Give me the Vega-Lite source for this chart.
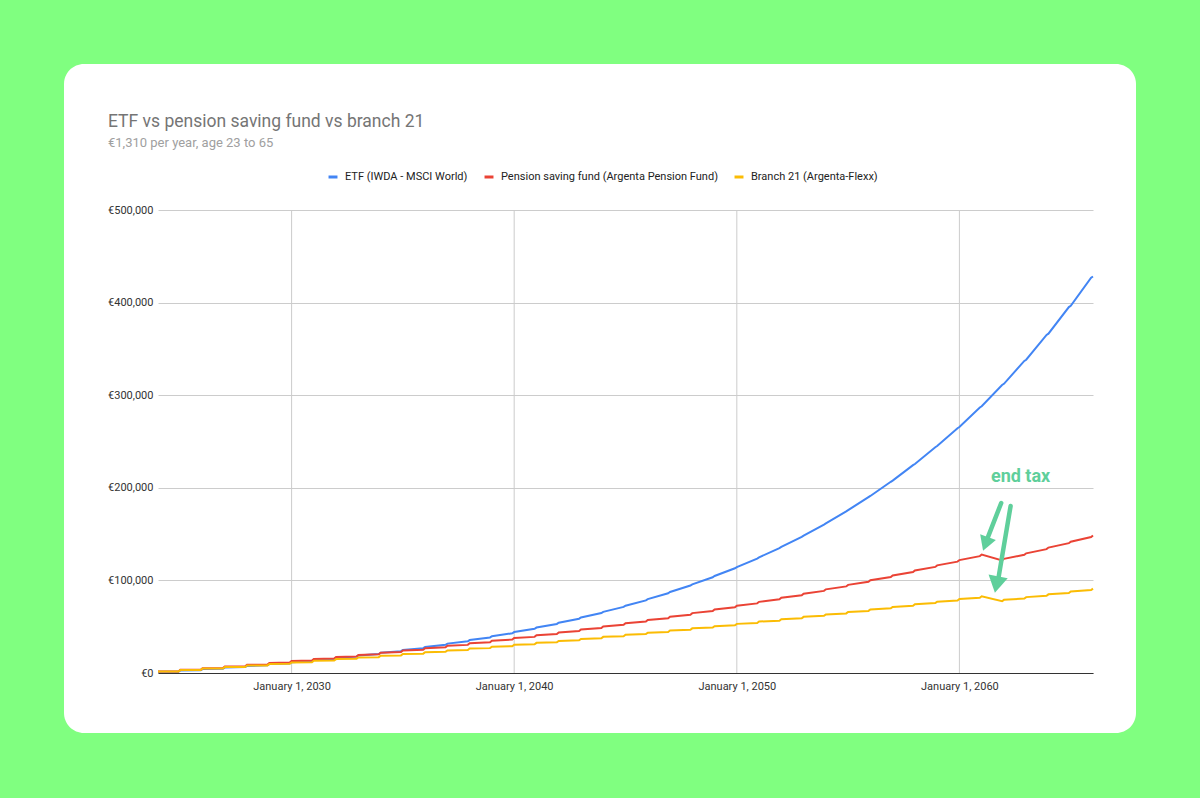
{
  "$schema": "https://vega.github.io/schema/vega-lite/v6.json",
  "width": 1072,
  "height": 669,
  "padding": {"left": 64, "top": 64, "right": 64, "bottom": 65},
  "background": "#80ff80",
  "config": {
    "view": {"fill": "#ffffff", "stroke": null, "cornerRadius": 20},
    "font": "Roboto",
    "axis": {"labelFont": "Roboto", "labelFontSize": 11, "labelColor": "#333333", "gridColor": "#cccccc", "gridWidth": 1},
    "legend": {"labelFont": "Roboto"}
  },
  "title": {
    "text": "ETF vs pension saving fund vs branch 21",
    "subtitle": "€1,310 per year, age 23 to 65",
    "anchor": "start",
    "frame": "group",
    "dx": 44,
    "offset": -86,
    "font": "Roboto",
    "fontSize": 17.5,
    "fontWeight": "normal",
    "color": "#757575",
    "subtitleFont": "Roboto",
    "subtitleFontSize": 13,
    "subtitleColor": "#a0a0a0",
    "subtitlePadding": 7
  },
  "data": {
    "values": [
      {"date": "2024-01-01T00:00:00", "ETF": 1310, "PSF": 1660, "B21": 1554},
      {"date": "2024-12-01T00:00:00", "ETF": 1415, "PSF": 1718, "B21": 1581},
      {"date": "2025-01-01T00:00:00", "ETF": 2725, "PSF": 3378, "B21": 3135},
      {"date": "2025-12-01T00:00:00", "ETF": 2943, "PSF": 3496, "B21": 3190},
      {"date": "2026-01-01T00:00:00", "ETF": 4253, "PSF": 5156, "B21": 4744},
      {"date": "2026-12-01T00:00:00", "ETF": 4593, "PSF": 5337, "B21": 4827},
      {"date": "2027-01-01T00:00:00", "ETF": 5903, "PSF": 6997, "B21": 6381},
      {"date": "2027-12-01T00:00:00", "ETF": 6375, "PSF": 7242, "B21": 6493},
      {"date": "2028-01-01T00:00:00", "ETF": 7685, "PSF": 8902, "B21": 8047},
      {"date": "2028-12-01T00:00:00", "ETF": 8300, "PSF": 9213, "B21": 8188},
      {"date": "2029-01-01T00:00:00", "ETF": 9610, "PSF": 10873, "B21": 9742},
      {"date": "2029-12-01T00:00:00", "ETF": 10379, "PSF": 11254, "B21": 9912},
      {"date": "2030-01-01T00:00:00", "ETF": 11689, "PSF": 12914, "B21": 11466},
      {"date": "2030-12-01T00:00:00", "ETF": 12623, "PSF": 13366, "B21": 11667},
      {"date": "2031-01-01T00:00:00", "ETF": 13933, "PSF": 15026, "B21": 13221},
      {"date": "2031-12-01T00:00:00", "ETF": 15049, "PSF": 15552, "B21": 13452},
      {"date": "2032-01-01T00:00:00", "ETF": 16359, "PSF": 17212, "B21": 15006},
      {"date": "2032-12-01T00:00:00", "ETF": 17667, "PSF": 17814, "B21": 15269},
      {"date": "2033-01-01T00:00:00", "ETF": 18977, "PSF": 19474, "B21": 16823},
      {"date": "2033-12-01T00:00:00", "ETF": 20495, "PSF": 20156, "B21": 17117},
      {"date": "2034-01-01T00:00:00", "ETF": 21805, "PSF": 21816, "B21": 18671},
      {"date": "2034-12-01T00:00:00", "ETF": 23551, "PSF": 22579, "B21": 18998},
      {"date": "2035-01-01T00:00:00", "ETF": 24861, "PSF": 24239, "B21": 20552},
      {"date": "2035-12-01T00:00:00", "ETF": 26848, "PSF": 25088, "B21": 20911},
      {"date": "2036-01-01T00:00:00", "ETF": 28158, "PSF": 26748, "B21": 22465},
      {"date": "2036-12-01T00:00:00", "ETF": 30412, "PSF": 27684, "B21": 22859},
      {"date": "2037-01-01T00:00:00", "ETF": 31722, "PSF": 29344, "B21": 24413},
      {"date": "2037-12-01T00:00:00", "ETF": 34260, "PSF": 30371, "B21": 24840},
      {"date": "2038-01-01T00:00:00", "ETF": 35570, "PSF": 32031, "B21": 26394},
      {"date": "2038-12-01T00:00:00", "ETF": 38414, "PSF": 33152, "B21": 26856},
      {"date": "2039-01-01T00:00:00", "ETF": 39724, "PSF": 34812, "B21": 28410},
      {"date": "2039-12-01T00:00:00", "ETF": 42903, "PSF": 36031, "B21": 28907},
      {"date": "2040-01-01T00:00:00", "ETF": 44213, "PSF": 37691, "B21": 30461},
      {"date": "2040-12-01T00:00:00", "ETF": 47750, "PSF": 39010, "B21": 30994},
      {"date": "2041-01-01T00:00:00", "ETF": 49060, "PSF": 40670, "B21": 32548},
      {"date": "2041-12-01T00:00:00", "ETF": 52985, "PSF": 42093, "B21": 33118},
      {"date": "2042-01-01T00:00:00", "ETF": 54295, "PSF": 43753, "B21": 34672},
      {"date": "2042-12-01T00:00:00", "ETF": 58639, "PSF": 45285, "B21": 35278},
      {"date": "2043-01-01T00:00:00", "ETF": 59949, "PSF": 46945, "B21": 36832},
      {"date": "2043-12-01T00:00:00", "ETF": 64743, "PSF": 48588, "B21": 37477},
      {"date": "2044-01-01T00:00:00", "ETF": 66053, "PSF": 50248, "B21": 39031},
      {"date": "2044-12-01T00:00:00", "ETF": 71338, "PSF": 52007, "B21": 39714},
      {"date": "2045-01-01T00:00:00", "ETF": 72648, "PSF": 53667, "B21": 41268},
      {"date": "2045-12-01T00:00:00", "ETF": 78461, "PSF": 55545, "B21": 41990},
      {"date": "2046-01-01T00:00:00", "ETF": 79771, "PSF": 57205, "B21": 43544},
      {"date": "2046-12-01T00:00:00", "ETF": 86152, "PSF": 59207, "B21": 44306},
      {"date": "2047-01-01T00:00:00", "ETF": 87462, "PSF": 60867, "B21": 45860},
      {"date": "2047-12-01T00:00:00", "ETF": 94459, "PSF": 62998, "B21": 46663},
      {"date": "2048-01-01T00:00:00", "ETF": 95769, "PSF": 64658, "B21": 48217},
      {"date": "2048-12-01T00:00:00", "ETF": 103431, "PSF": 66921, "B21": 49061},
      {"date": "2049-01-01T00:00:00", "ETF": 104741, "PSF": 68581, "B21": 50615},
      {"date": "2049-12-01T00:00:00", "ETF": 113120, "PSF": 70981, "B21": 51500},
      {"date": "2050-01-01T00:00:00", "ETF": 114430, "PSF": 72641, "B21": 53054},
      {"date": "2050-12-01T00:00:00", "ETF": 123584, "PSF": 75184, "B21": 53983},
      {"date": "2051-01-01T00:00:00", "ETF": 124894, "PSF": 76844, "B21": 55537},
      {"date": "2051-12-01T00:00:00", "ETF": 134886, "PSF": 79533, "B21": 56509},
      {"date": "2052-01-01T00:00:00", "ETF": 136196, "PSF": 81193, "B21": 58063},
      {"date": "2052-12-01T00:00:00", "ETF": 147092, "PSF": 84035, "B21": 59079},
      {"date": "2053-01-01T00:00:00", "ETF": 148402, "PSF": 85695, "B21": 60633},
      {"date": "2053-12-01T00:00:00", "ETF": 160274, "PSF": 88694, "B21": 61694},
      {"date": "2054-01-01T00:00:00", "ETF": 161584, "PSF": 90354, "B21": 63248},
      {"date": "2054-12-01T00:00:00", "ETF": 174510, "PSF": 93517, "B21": 64355},
      {"date": "2055-01-01T00:00:00", "ETF": 175820, "PSF": 95177, "B21": 65909},
      {"date": "2055-12-01T00:00:00", "ETF": 189885, "PSF": 98508, "B21": 67062},
      {"date": "2056-01-01T00:00:00", "ETF": 191195, "PSF": 100168, "B21": 68616},
      {"date": "2056-12-01T00:00:00", "ETF": 206490, "PSF": 103674, "B21": 69817},
      {"date": "2057-01-01T00:00:00", "ETF": 207800, "PSF": 105334, "B21": 71371},
      {"date": "2057-12-01T00:00:00", "ETF": 224424, "PSF": 109020, "B21": 72620},
      {"date": "2058-01-01T00:00:00", "ETF": 225734, "PSF": 110680, "B21": 74174},
      {"date": "2058-12-01T00:00:00", "ETF": 243794, "PSF": 114554, "B21": 75472},
      {"date": "2059-01-01T00:00:00", "ETF": 245104, "PSF": 116214, "B21": 77026},
      {"date": "2059-12-01T00:00:00", "ETF": 264290, "PSF": 120281, "B21": 78374},
      {"date": "2060-01-01T00:00:00", "ETF": 265600, "PSF": 121941, "B21": 79928},
      {"date": "2060-12-01T00:00:00", "ETF": 286690, "PSF": 126209, "B21": 81326},
      {"date": "2061-01-01T00:00:00", "ETF": 288000, "PSF": 127869, "B21": 82880},
      {"date": "2061-12-01T00:00:00", "ETF": 310990, "PSF": 121623, "B21": 77461},
      {"date": "2062-01-01T00:00:00", "ETF": 312300, "PSF": 123283, "B21": 79015},
      {"date": "2062-12-01T00:00:00", "ETF": 336990, "PSF": 127598, "B21": 80398},
      {"date": "2063-01-01T00:00:00", "ETF": 338300, "PSF": 129258, "B21": 81952},
      {"date": "2063-12-01T00:00:00", "ETF": 365090, "PSF": 133782, "B21": 83386},
      {"date": "2064-01-01T00:00:00", "ETF": 366400, "PSF": 135442, "B21": 84940},
      {"date": "2064-12-01T00:00:00", "ETF": 395190, "PSF": 140182, "B21": 86426},
      {"date": "2065-01-01T00:00:00", "ETF": 396500, "PSF": 141842, "B21": 87980},
      {"date": "2065-12-01T00:00:00", "ETF": 426890, "PSF": 146806, "B21": 89520},
      {"date": "2066-01-01T00:00:00", "ETF": 428200, "PSF": 148466, "B21": 91074}
    ]
  },
  "layer": [
    {
      "data": {
        "values": [
          {"d": "2030-01-01T00:00:00"},
          {"d": "2040-01-01T00:00:00"},
          {"d": "2050-01-01T00:00:00"},
          {"d": "2060-01-01T00:00:00"}
        ]
      },
      "mark": {"type": "rule", "color": "#cccccc", "strokeWidth": 1},
      "encoding": {
        "x": {"field": "d", "type": "temporal"},
        "y": {"datum": 0, "type": "quantitative"},
        "y2": {"datum": 500000}
      }
    },
    {
      "transform": [{"fold": ["ETF", "PSF", "B21"], "as": ["series", "value"]}],
      "mark": {"type": "line", "strokeWidth": 2},
      "encoding": {
        "x": {
          "field": "date",
          "type": "temporal",
          "scale": {
            "domain": [{"year": 2024, "month": 1, "date": 1}, {"year": 2066, "month": 1, "date": 1}],
            "range": [94, 1029]
          },
          "axis": {
            "title": null,
            "values": [
              {"year": 2030, "month": 1, "date": 1},
              {"year": 2040, "month": 1, "date": 1},
              {"year": 2050, "month": 1, "date": 1},
              {"year": 2060, "month": 1, "date": 1}
            ],
            "format": "%B %-d, %Y",
            "offset": -60,
            "ticks": false,
            "domain": true,
            "domainColor": "#333333",
            "domainWidth": 1,
            "labelPadding": 7,
            "grid": false
          }
        },
        "y": {
          "field": "value",
          "type": "quantitative",
          "scale": {"domain": [0, 500000], "range": [609, 146], "nice": false},
          "axis": {
            "title": null,
            "values": [0, 100000, 200000, 300000, 400000, 500000],
            "labelExpr": "'€' + format(datum.value, ',')",
            "offset": -94,
            "ticks": false,
            "domain": false,
            "labelPadding": 5,
            "grid": true
          }
        },
        "color": {
          "field": "series",
          "type": "nominal",
          "scale": {"domain": ["ETF", "PSF", "B21"], "range": ["#4285f4", "#ea4335", "#fbbc04"]},
          "legend": {
            "title": null,
            "orient": "none",
            "legendX": 263,
            "legendY": 107,
            "direction": "horizontal",
            "symbolType": "stroke",
            "symbolStrokeWidth": 3,
            "symbolSize": 80,
            "labelFontSize": 11,
            "labelColor": "#222222",
            "columnPadding": 10,
            "labelOffset": 6,
            "padding": 0,
            "labelLimit": 400,
            "labelExpr": "datum.value == 'ETF' ? 'ETF (IWDA - MSCI World)' : datum.value == 'PSF' ? 'Pension saving fund (Argenta Pension Fund)' : 'Branch 21 (Argenta-Flexx)'"
          }
        }
      }
    },
    {
      "data": {
        "values": [
          {"x1": "2061-11-17T00:00:00", "y1": 183600, "x2": "2061-03-25T00:00:00", "y2": 143500},
          {"x1": "2062-04-20T00:00:00", "y1": 180300, "x2": "2061-09-25T00:00:00", "y2": 99500}
        ]
      },
      "mark": {"type": "rule", "strokeWidth": 4.5, "strokeCap": "round", "color": "#5fcf9b"},
      "encoding": {
        "x": {"field": "x1", "type": "temporal"},
        "y": {"field": "y1", "type": "quantitative"},
        "x2": {"field": "x2"},
        "y2": {"field": "y2"}
      }
    },
    {
      "data": {"values": [{"d": "2061-03-05T00:00:00", "v": 139500}]},
      "mark": {"type": "point", "shape": "triangle-down", "filled": true, "size": 280, "angle": 20, "color": "#5fcf9b", "opacity": 1},
      "encoding": {
        "x": {"field": "d", "type": "temporal"},
        "y": {"field": "v", "type": "quantitative"}
      }
    },
    {
      "data": {"values": [{"d": "2061-09-01T00:00:00", "v": 95500}]},
      "mark": {"type": "point", "shape": "triangle-down", "filled": true, "size": 380, "angle": 11, "color": "#5fcf9b", "opacity": 1},
      "encoding": {
        "x": {"field": "d", "type": "temporal"},
        "y": {"field": "v", "type": "quantitative"}
      }
    },
    {
      "data": {"values": [{"d": "2062-10-01T00:00:00", "v": 211700, "label": "end tax"}]},
      "mark": {"type": "text", "font": "Roboto", "fontSize": 18, "fontWeight": "bold", "color": "#5fcf9b", "baseline": "middle", "align": "center"},
      "encoding": {
        "x": {"field": "d", "type": "temporal"},
        "y": {"field": "v", "type": "quantitative"},
        "text": {"field": "label"}
      }
    }
  ]
}
